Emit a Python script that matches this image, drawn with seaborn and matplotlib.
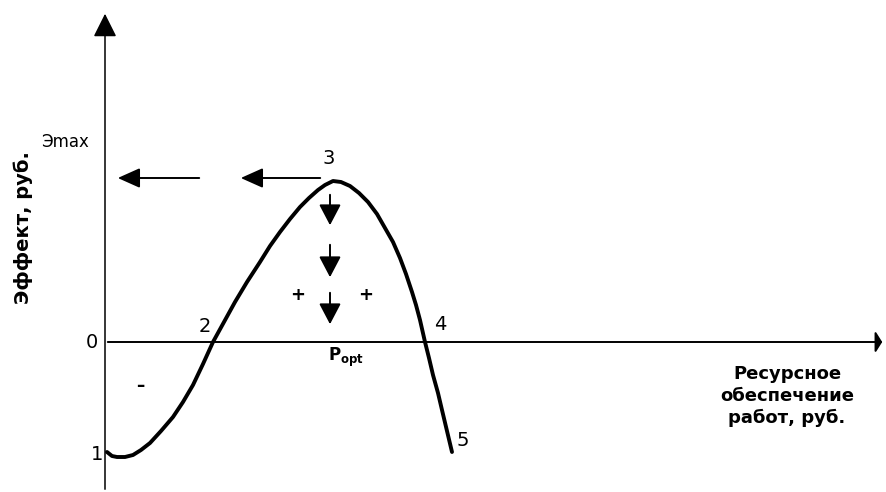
import matplotlib
matplotlib.use('Agg')
import matplotlib.pyplot as plt
import seaborn as sns

# ресурсное обеспечение и эффект (условные единицы)
resource = [2, 7, 12, 20, 28, 36, 45, 56, 68, 78, 88, 98, 108, 119, 130,
            142, 155, 165, 175, 185, 195, 204, 213, 220, 228, 236, 245,
            254, 263, 272, 280, 288, 295, 301, 307, 311, 315, 320, 324,
            328, 333, 337, 342, 347]
effect = [-110, -114, -115, -115, -113, -108, -101, -89, -75, -60, -43, -22,
          0, 20, 40, 60, 80, 96, 110, 123, 135, 144, 152, 157, 161, 160,
          156, 149, 140, 128, 114, 100, 84, 68, 50, 37, 22, 0, -16, -33,
          -51, -68, -89, -110]

e_max = 161
p_opt = 228

sns.set_theme(style='white')
plt.rcParams['font.family'] = ['DejaVu Sans']
plt.rcParams['text.color'] = 'black'

fig = plt.figure(figsize=(8.86, 4.92), dpi=100)
ax = fig.add_axes([0, 0, 1, 1])
ax.set_xlim(-105, 781)
ax.set_ylim(-150, 342)
ax.axis('off')

# кривая эффекта
sns.lineplot(x=resource, y=effect, sort=False, estimator=None,
             color='black', linewidth=2.8, ax=ax,
             solid_joinstyle='round', solid_capstyle='round')

# оси со стрелками
ax.annotate('', xy=(0, 331), xytext=(0, -150),
            arrowprops=dict(arrowstyle='-|>,head_length=0.9,head_width=0.45',
                            color='black', lw=1.1, mutation_scale=16))
ax.annotate('', xy=(780, 0), xytext=(0, 0),
            arrowprops=dict(arrowstyle='-|>,head_length=0.25,head_width=0.4',
                            color='black', lw=1.4, mutation_scale=16))

# горизонтальные стрелки к Эmax
arrow_h = dict(arrowstyle='-|>,head_length=0.85,head_width=0.38',
               color='black', lw=1.4, mutation_scale=16)
ax.annotate('', xy=(10, e_max + 3), xytext=(97, e_max + 3), arrowprops=arrow_h)
ax.annotate('', xy=(133, e_max + 3), xytext=(218, e_max + 3), arrowprops=arrow_h)

# вертикальные стрелки к Popt
arrow_v = dict(arrowstyle='-|>,head_length=0.8,head_width=0.42',
               color='black', lw=1.4, mutation_scale=16)
for top, bottom in [(150, 114), (100, 62), (52, 15)]:
    ax.annotate('', xy=(p_opt - 3, bottom), xytext=(p_opt - 3, top),
                arrowprops=arrow_v)

# подписи точек
num = dict(fontsize=14, color='black', ha='center', va='center')
ax.text(224, 183, '3', **num)
ax.text(100, 16, '2', **num)
ax.text(335, 17, '4', **num)
ax.text(358, -98, '5', **num)
ax.text(-8, -113, '1', **num)
ax.text(-13, -1, '0', **num)

ax.text(-64, 200, 'Эmax', fontsize=12, ha='left', va='center')
ax.text(241, -15, r'P$_{\mathbf{opt}}$', fontsize=12, fontweight='bold',
        ha='center', va='center')
ax.text(193, 47, '+', fontsize=13, fontweight='bold', ha='center', va='center')
ax.text(261, 47, '+', fontsize=13, fontweight='bold', ha='center', va='center')
ax.text(35, -44, '–', fontsize=12, fontweight='bold', ha='center', va='center')

# подписи осей
ax.text(-82, 114, 'Эффект, руб.', fontsize=14, fontweight='heavy',
        rotation=90, ha='center', va='center')
ax.text(682, -54, 'Ресурсное\nобеспечение\nработ, руб.', fontsize=13,
        fontweight='heavy', ha='center', va='center', linespacing=1.25)

fig.savefig('out.png', dpi=100)
